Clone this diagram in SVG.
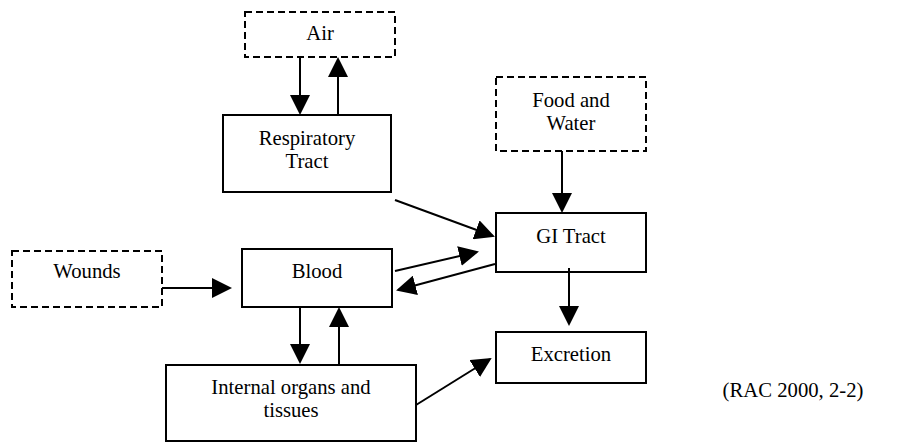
<svg xmlns="http://www.w3.org/2000/svg" width="902" height="443" viewBox="0 0 902 443">
<defs>
<marker id="ah" markerUnits="userSpaceOnUse" markerWidth="20" markerHeight="20" viewBox="0 0 20 20" refX="18" refY="10" orient="auto">
<path d="M0,0 L20,10 L0,20 Z" fill="#000"/>
</marker>
<style>
.box{fill:#fff;stroke:#000;stroke-width:2}
.dash{fill:#fff;stroke:#000;stroke-width:2;stroke-dasharray:7,4}
.t{font-family:"Liberation Serif","Times New Roman",serif;font-size:20.7px;fill:#000;text-anchor:middle}
.c{fill:none;stroke:#000;stroke-width:2;marker-end:url(#ah)}
</style>
</defs>
<rect width="902" height="443" fill="#fff"/>
<g id="air"><rect class="dash" x="245" y="12" width="150" height="45"/><text class="t" x="320" y="40">Air</text></g>
<g id="respiratory"><rect class="box" x="223" y="115" width="168" height="77"/><text class="t" x="307" y="145">Respiratory</text><text class="t" x="307" y="168">Tract</text></g>
<g id="food"><rect class="dash" x="496" y="77" width="150" height="74"/><text class="t" x="571" y="107">Food and</text><text class="t" x="571" y="130">Water</text></g>
<g id="gi"><rect class="box" x="496" y="213" width="150" height="59"/><text class="t" x="571" y="243">GI Tract</text></g>
<g id="wounds"><rect class="dash" x="12" y="251" width="150" height="56"/><text class="t" x="87" y="278">Wounds</text></g>
<g id="blood"><rect class="box" x="242" y="249" width="150" height="58"/><text class="t" x="317" y="278">Blood</text></g>
<g id="internal"><rect class="box" x="166" y="365" width="250" height="76"/><text class="t" x="291" y="394">Internal organs and</text><text class="t" x="291" y="417">tissues</text></g>
<g id="excretion"><rect class="box" x="496" y="332" width="150" height="51"/><text class="t" x="571" y="361">Excretion</text></g>
<g id="source"><text class="t" x="793" y="397">(RAC 2000, 2-2)</text></g>
<g id="connectors">
<line class="c" x1="300" y1="57" x2="300" y2="113"/>
<line class="c" x1="338" y1="115" x2="338" y2="59"/>
<line class="c" x1="395" y1="200" x2="493" y2="236"/>
<line class="c" x1="562" y1="151" x2="562" y2="211"/>
<line class="c" x1="162" y1="288" x2="230" y2="288"/>
<line class="c" x1="395" y1="271" x2="477" y2="252"/>
<line class="c" x1="495" y1="264" x2="398" y2="290"/>
<line class="c" x1="300" y1="307" x2="300" y2="362"/>
<line class="c" x1="339" y1="365" x2="339" y2="309"/>
<line class="c" x1="569" y1="268" x2="569" y2="324"/>
<line class="c" x1="416" y1="405" x2="490" y2="359"/>
</g>
</svg>
